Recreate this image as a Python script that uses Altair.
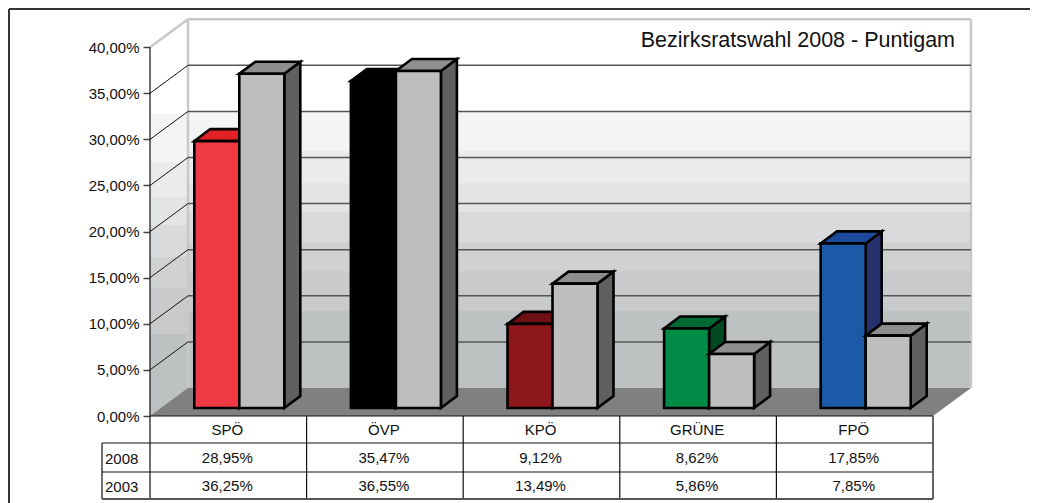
import altair as alt
import pandas as pd

categories = ["SPÖ", "ÖVP", "KPÖ", "GRÜNE", "FPÖ"]
v2008 = [28.95, 35.47, 9.12, 8.62, 17.85]
v2003 = [36.25, 36.55, 13.49, 5.86, 7.85]
front_2008 = ["#f03a43", "#000000", "#8e171c", "#008c46", "#1c5aa8"]
top_2008 = ["#e32228", "#000000", "#6e1014", "#006a35", "#1c4a9c"]
side_2008 = ["#b01b20", "#000000", "#5a0e10", "#004a22", "#24316d"]
band_colors = ["#f3f4f4", "#ebebeb", "#e3e4e4", "#d9dadb", "#d0d2d1", "#c9cacb", "#bec1c2"]
back_edges = [33.08, 28.74, 25.27, 22.13, 18.87, 15.73, 11.39, 3.04]
left_edges = [32.75, 27.55, 23.75, 20.72, 17.24, 13.88, 8.89, 0.0]
ticks = [0, 5, 10, 15, 20, 25, 30, 35, 40]

FONT = "Liberation Sans"
PX_X = 156.6   # pixels per category
PX_Y = 9.22    # pixels per percentage point
DX, DY = 38 / PX_X, 28 / PX_Y        # depth of the floor
BX, BY = 16 / PX_X, 12 / PX_Y        # depth of a bar
BASE = 8 / PX_Y                      # bars stand inside the floor
SHIFT = 11 / PX_X
BW = 45 / PX_X
EDGE = 2.6

xs = alt.Scale(domain=[0, 823 / PX_X], nice=False, zero=False)
ys = alt.Scale(domain=[0, 397 / PX_Y], nice=False, zero=False)
AX = alt.Axis(values=ticks, title=None, domain=False, grid=False, tickSize=7, tickColor="#444444",
              tickWidth=1.5, labelFont=FONT, labelFontSize=15, labelColor="#111111", labelPadding=4,
              labelExpr="replace(format(datum.value,'.2f'),'.',',')+'%'")
X = alt.X("x:Q", scale=xs, axis=None)
Y = alt.Y("y:Q", scale=ys, axis=AX)
X2 = alt.X2("x2:Q")
Y2 = alt.Y2("y2:Q")


def px_y(p):
    return (416 - p) / PX_Y


def px_x(p):
    return (p - 150) / PX_X


def rect_layer(rows, **mk):
    return alt.Chart(pd.DataFrame(rows)).mark_rect(**mk).encode(
        x=X, x2=X2, y=Y, y2=Y2, color=alt.Color("fill:N", scale=None))


def side_layer(rows):
    return alt.Chart(pd.DataFrame(rows)).mark_area(stroke="black", strokeWidth=EDGE, opacity=1).encode(
        x=X, y=Y, y2=Y2, detail="id:N", color=alt.Color("fill:N", scale=None))


def top_layer(rows, **mk):
    return alt.Chart(pd.DataFrame(rows)).mark_area(orient="horizontal", opacity=1, **mk).encode(
        x=X, x2=X2, y=Y, detail="id:N", color=alt.Color("fill:N", scale=None))


def line_layer(rows, **mk):
    return alt.Chart(pd.DataFrame(rows)).mark_line(**mk).encode(x=X, y=Y, detail="id:N")


def hline(x0, x1, y, i):
    return [dict(x=x0, y=y, id=i), dict(x=x1, y=y, id=i)]


def vline(x, y0, y1, i):
    return [dict(x=x, y=y0, id=i), dict(x=x, y=y1, id=i)]


layers = []

# wall bands
layers.append(rect_layer([
    dict(x=DX, x2=5 + DX, y=back_edges[i], y2=back_edges[i + 1], fill=c) for i, c in enumerate(band_colors)]))
layers.append(rect_layer([
    dict(x=0, x2=DX, y=left_edges[i], y2=left_edges[i + 1], fill=c) for i, c in enumerate(band_colors)]))

# floor
layers.append(top_layer([
    dict(x=0, x2=5, y=0, id="f", fill="#808080"),
    dict(x=DX, x2=5 + DX, y=DY, id="f", fill="#808080")]))

# wall frame
frame = (vline(DX, DY, 40 + DY, "a") + vline(5 + DX, DY, 40 + DY, "b") + hline(DX, 5 + DX, 40 + DY, "c")
         + [dict(x=0, y=40, id="d"), dict(x=DX, y=40 + DY, id="d")])
layers.append(line_layer(frame, color="#c8c8c8", strokeWidth=2.5))

# grid lines
grid = []
slant = []
for k in ticks[1:-1]:
    grid += hline(DX, 5 + DX, k + DY, f"g{k}")
    slant += [dict(x=0, y=k, id=f"s{k}"), dict(x=DX, y=k + DY, id=f"s{k}")]
layers.append(line_layer(grid, color="#555555", strokeWidth=1.5))
layers.append(line_layer(slant, color="#111111", strokeWidth=1))

# bars
for si, (vals, fronts, tops, sides) in enumerate([
    (v2008, front_2008, top_2008, side_2008),
    (v2003, ["#bebebe"] * 5, ["#8e8e8e"] * 5, ["#606060"] * 5),
]):
    s_rows, t_rows, f_rows = [], [], []
    for i, v in enumerate(vals):
        a = i + 0.5 + SHIFT + (si - 1) * BW
        b = a + BW
        top = v + BASE
        s_rows += [dict(x=b, y=top, y2=BASE, id=i, fill=sides[i]),
                   dict(x=b + BX, y=top + BY, y2=BASE + BY, id=i, fill=sides[i])]
        t_rows += [dict(x=a, x2=b, y=top, id=i, fill=tops[i]),
                   dict(x=a + BX, x2=b + BX, y=top + BY, id=i, fill=tops[i])]
        f_rows.append(dict(x=a, x2=b, y=top, y2=BASE, fill=fronts[i]))
    layers.append(side_layer(s_rows))
    layers.append(top_layer(t_rows, stroke="black", strokeWidth=EDGE))
    layers.append(rect_layer(f_rows, stroke="black", strokeWidth=EDGE))

# value axis line and table grid
R1, R2, R3 = px_y(443), px_y(472), px_y(499)
LC = px_x(102)
tbl = vline(0, 0, 40, "ax") + hline(0, 5, 0, "base")
tbl += hline(LC, 5, R1, "r1") + hline(LC, 5, R2, "r2") + vline(LC, R1, R3, "lc")
for i in range(5):
    tbl += vline(i, 0, R3, f"v{i}")
layers.append(line_layer(tbl, color="#111111", strokeWidth=1.2))
layers.append(line_layer(vline(5, 0, R3, "v5") + hline(LC, 5, R3, "r3"), color="#555555", strokeWidth=1.8))

# outer frame: top and left edges only
outer = hline(px_x(9), px_x(1040), px_y(9), "ot") + vline(px_x(9), px_y(9), px_y(505), "ol")
layers.append(line_layer(outer, color="#333333", strokeWidth=2))

# table text
text_rows = []
for i, c in enumerate(categories):
    text_rows.append(dict(x=i + 0.5, y=px_y(429.5), t=c))
    text_rows.append(dict(x=i + 0.5, y=px_y(457.5), t=f"{v2008[i]:.2f}%".replace(".", ",")))
    text_rows.append(dict(x=i + 0.5, y=px_y(485.5), t=f"{v2003[i]:.2f}%".replace(".", ",")))
layers.append(alt.Chart(pd.DataFrame(text_rows)).mark_text(font=FONT, fontSize=15, color="#111111", dx=-1).encode(
    x=X, y=Y, text="t:N"))
row_rows = [dict(x=px_x(105), y=px_y(459), t="2008"), dict(x=px_x(105), y=px_y(487), t="2003")]
layers.append(alt.Chart(pd.DataFrame(row_rows)).mark_text(font=FONT, fontSize=15, color="#111111", align="left").encode(
    x=X, y=Y, text="t:N"))

chart = alt.layer(*layers).properties(
    width=823,
    height=397,
    autosize=alt.AutoSizeParams(type="none"),
    padding={"left": 142, "top": 11, "right": 57, "bottom": 87},
    title=alt.TitleParams("Bezirksratswahl 2008 - Puntigam", anchor="end", frame="group", dx=-18, dy=50,
                          font=FONT, fontSize=21.5, fontWeight="normal", color="#111111"),
).configure_view(stroke=None)

chart.save("out.html", embed_options={"renderer": "svg", "actions": False})
